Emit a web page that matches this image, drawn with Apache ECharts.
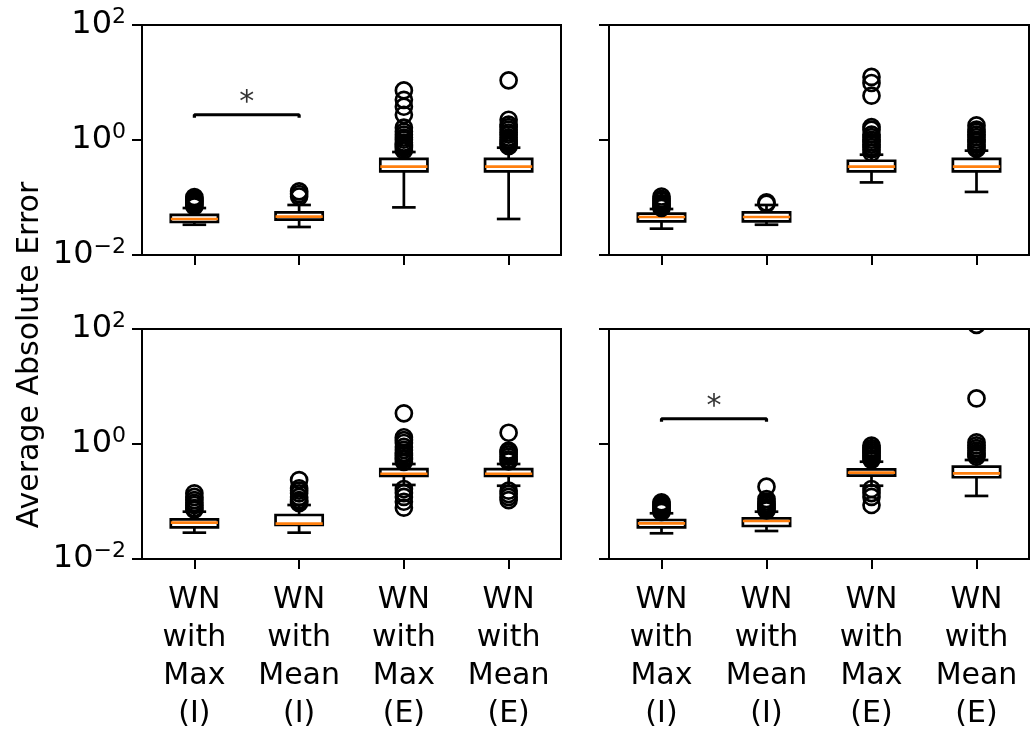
<!DOCTYPE html>
<html><head><meta charset="utf-8">
<script src="https://cdn.jsdelivr.net/npm/echarts@6/dist/echarts.min.js"></script>
<style>html,body{margin:0;padding:0;background:#fff}#c{width:1031px;height:736px}</style>
</head><body><div id="c"></div>
<script>
// ---- data ----
const categories = ['WN\nwith\nMax\n(I)', 'WN\nwith\nMean\n(I)', 'WN\nwith\nMax\n(E)', 'WN\nwith\nMean\n(E)'];
const yTickValues = [0.01, 1, 100];
const yTickExponents = ['\u22122', '0', '2'];
const yAxisTitle = 'Average Absolute Error';

// [lower whisker, Q1, median, Q3, upper whisker]
const boxesTL = [[0.0336, 0.0375, 0.0423, 0.050, 0.0656], [0.0307, 0.0411, 0.0464, 0.0551, 0.0741], [0.0673, 0.284, 0.344, 0.468, 0.618], [0.0423, 0.284, 0.344, 0.468, 0.735]];
const boxesTR = [[0.0287, 0.0384, 0.0458, 0.0523, 0.0631], [0.0336, 0.0384, 0.0458, 0.0551, 0.0741], [0.183, 0.284, 0.344, 0.436, 0.555], [0.125, 0.284, 0.344, 0.468, 0.652]];
const boxesBL = [[0.0287, 0.0356, 0.0428, 0.049, 0.0665], [0.0287, 0.039, 0.0411, 0.0582, 0.0869], [0.194, 0.278, 0.304, 0.367, 0.449], [0.188, 0.278, 0.304, 0.367, 0.449]];
const boxesBR = [[0.028, 0.0356, 0.0418, 0.0477, 0.0624], [0.0307, 0.0375, 0.0458, 0.051, 0.0665], [0.188, 0.281, 0.317, 0.363, 0.492], [0.125, 0.264, 0.309, 0.403, 0.527]];

const outliersTL = [[0.070, 0.075, 0.080, 0.085, 0.090, 0.095, 0.102], [0.104, 0.115, 0.128], [0.66, 0.73, 0.78, 0.83, 0.90, 1.01, 1.1, 1.24, 1.4, 1.64, 2.75, 3.79, 5.0, 7.29], [0.78, 0.86, 0.93, 1.01, 1.1, 1.24, 1.35, 1.51, 1.68, 1.85, 2.25, 10.9]];
const outliersTR = [[0.066, 0.070, 0.075, 0.080, 0.088, 0.095, 0.104], [0.078, 0.082], [0.60, 0.68, 0.75, 0.83, 0.92, 1.01, 1.12, 1.24, 1.51, 1.68, 5.9, 9.8, 12.5], [0.70, 0.76, 0.83, 0.92, 1.01, 1.12, 1.24, 1.38, 1.51, 1.79]];
const outliersBL = [[0.072, 0.077, 0.087, 0.095, 0.106, 0.12, 0.139], [0.094, 0.10, 0.106, 0.12, 0.139, 0.155, 0.17, 0.236], [0.49, 0.54, 0.57, 0.64, 0.70, 0.79, 0.89, 1.04, 1.17, 1.31, 3.42, 0.165, 0.14, 0.12, 0.099, 0.078], [0.5, 0.54, 0.6, 0.66, 0.72, 0.77, 1.57, 0.154, 0.135, 0.12, 0.106]];
const outliersBR = [[0.066, 0.070, 0.075, 0.080, 0.085, 0.090, 0.097], [0.070, 0.075, 0.080, 0.086, 0.092, 0.10, 0.11, 0.181], [0.53, 0.57, 0.62, 0.67, 0.72, 0.78, 0.85, 0.935, 0.165, 0.14, 0.12, 0.087], [0.6, 0.65, 0.7, 0.77, 0.85, 0.95, 1.07, 6.2, 118]];

// significance bracket between first two categories, and its star
const sigBracket = [[0, 2.44], [0, 2.75], [1, 2.75], [1, 2.44]];
const sigStar = [[0.5, 4.4]];

const panels = [
  {boxes: boxesTL, outliers: outliersTL, sig: true, yLabels: true, xLabels: false},
  {boxes: boxesTR, outliers: outliersTR, sig: false, yLabels: false, xLabels: false},
  {boxes: boxesBL, outliers: outliersBL, sig: false, yLabels: true, xLabels: true},
  {boxes: boxesBR, outliers: outliersBR, sig: true, yLabels: false, xLabels: true}
];

// ---- layout ----
const FONT = 'DejaVu Sans';
const gridPos = [
  {left: 142, top: 25, width: 419, height: 230},
  {left: 609, top: 25, width: 420, height: 230},
  {left: 142, top: 329, width: 419, height: 230},
  {left: 609, top: 329, width: 420, height: 230}
];
const LW = 2.7;

const expByValue = {};
yTickValues.forEach((v, i) => { expByValue[Math.round(Math.log10(v))] = yTickExponents[i]; });

const grid = [], xAxis = [], yAxis = [], series = [];
panels.forEach((p, i) => {
  grid.push(Object.assign({show: true, borderColor: '#000', borderWidth: 2, backgroundColor: 'transparent'}, gridPos[i]));
  xAxis.push({
    type: 'category', gridIndex: i, data: categories, boundaryGap: true,
    axisLine: {show: true, onZero: false, lineStyle: {color: '#000', width: 2}},
    axisTick: {show: true, alignWithLabel: true, length: 10, lineStyle: {color: '#000', width: 2}},
    axisLabel: {show: p.xLabels, interval: 0, color: '#000', fontSize: 30, lineHeight: 38, margin: 22, fontFamily: FONT},
    splitLine: {show: false}
  });
  xAxis.push({type: 'value', gridIndex: i, min: -0.5, max: 3.5, show: false, axisLine: {onZero: false}});
  yAxis.push({
    type: 'log', gridIndex: i, logBase: 10, min: 0.01, max: 100, interval: 2,
    axisLine: {show: true, onZero: false, lineStyle: {color: '#000', width: 2}},
    axisTick: {show: true, length: 10, lineStyle: {color: '#000', width: 2}},
    splitLine: {show: false},
    axisLabel: {
      show: p.yLabels, margin: 16, color: '#000',
      formatter: v => {
        const e = Math.round(Math.log10(v));
        const s = expByValue[e];
        return s === undefined ? '' : '{b|10}{s|' + s + '}';
      },
      rich: {
        b: {fontSize: 32, fontFamily: FONT, color: '#000', lineHeight: 38},
        s: {fontSize: 22, fontFamily: FONT, color: '#000', verticalAlign: 'top', lineHeight: 22}
      }
    }
  });
  // boxes
  series.push({
    type: 'custom', xAxisIndex: 2 * i, yAxisIndex: i, z: 3,
    data: p.boxes.map((b, k) => [k].concat(b)),
    renderItem: (params, api) => {
      const k = api.value(0);
      const band = api.size([1, 1])[0];
      const bw = band * 0.45, cw = band * 0.225;
      const lo = api.coord([k, api.value(1)]);
      const q1 = api.coord([k, api.value(2)]);
      const md = api.coord([k, api.value(3)]);
      const q3 = api.coord([k, api.value(4)]);
      const hi = api.coord([k, api.value(5)]);
      const x = lo[0];
      const st = {stroke: '#000', lineWidth: LW, fill: null};
      return {type: 'group', children: [
        {type: 'line', shape: {x1: x, y1: q1[1], x2: x, y2: lo[1]}, style: st},
        {type: 'line', shape: {x1: x, y1: q3[1], x2: x, y2: hi[1]}, style: st},
        {type: 'line', shape: {x1: x - cw / 2, y1: lo[1], x2: x + cw / 2, y2: lo[1]}, style: st},
        {type: 'line', shape: {x1: x - cw / 2, y1: hi[1], x2: x + cw / 2, y2: hi[1]}, style: st},
        {type: 'rect', shape: {x: x - bw / 2, y: q3[1], width: bw, height: q1[1] - q3[1]}, style: {stroke: '#000', lineWidth: LW, fill: 'rgba(0,0,0,0)'}},
        {type: 'line', shape: {x1: x - bw / 2, y1: md[1], x2: x + bw / 2, y2: md[1]}, style: {stroke: '#ff7f0e', lineWidth: LW}}
      ]};
    }
  });
  // outliers (custom circles so they are clipped at the plot edge)
  const pts = [];
  p.outliers.forEach((arr, k) => arr.forEach(v => pts.push([k, v])));
  series.push({
    type: 'custom', xAxisIndex: 2 * i, yAxisIndex: i, z: 4, clip: true,
    data: pts,
    renderItem: (params, api) => {
      const c = api.coord([api.value(0), api.value(1)]);
      return {type: 'circle', shape: {cx: c[0], cy: c[1], r: 8}, style: {fill: 'rgba(0,0,0,0)', stroke: '#000', lineWidth: LW}};
    }
  });
  if (p.sig) {
    series.push({
      type: 'line', xAxisIndex: 2 * i + 1, yAxisIndex: i, z: 5,
      data: sigBracket, symbol: 'none',
      lineStyle: {color: '#000', width: 3.2}
    });
    series.push({
      type: 'scatter', xAxisIndex: 2 * i + 1, yAxisIndex: i, z: 5,
      data: sigStar, symbolSize: 1, itemStyle: {color: 'rgba(0,0,0,0)'},
      label: {show: true, position: 'inside', formatter: '*', fontSize: 30, fontFamily: FONT, color: '#000'}
    });
  }
});

const chart = echarts.init(document.getElementById('c'), null, {renderer: 'canvas'});
chart.setOption({
  animation: false,
  backgroundColor: '#fff',
  grid, xAxis, yAxis, series,
  graphic: [{
    type: 'text', x: 30, y: 355, rotation: Math.PI / 2,
    style: {text: yAxisTitle, font: '30px "DejaVu Sans"', fill: '#000', textAlign: 'center', textVerticalAlign: 'middle'}
  }]
});
</script></body></html>
